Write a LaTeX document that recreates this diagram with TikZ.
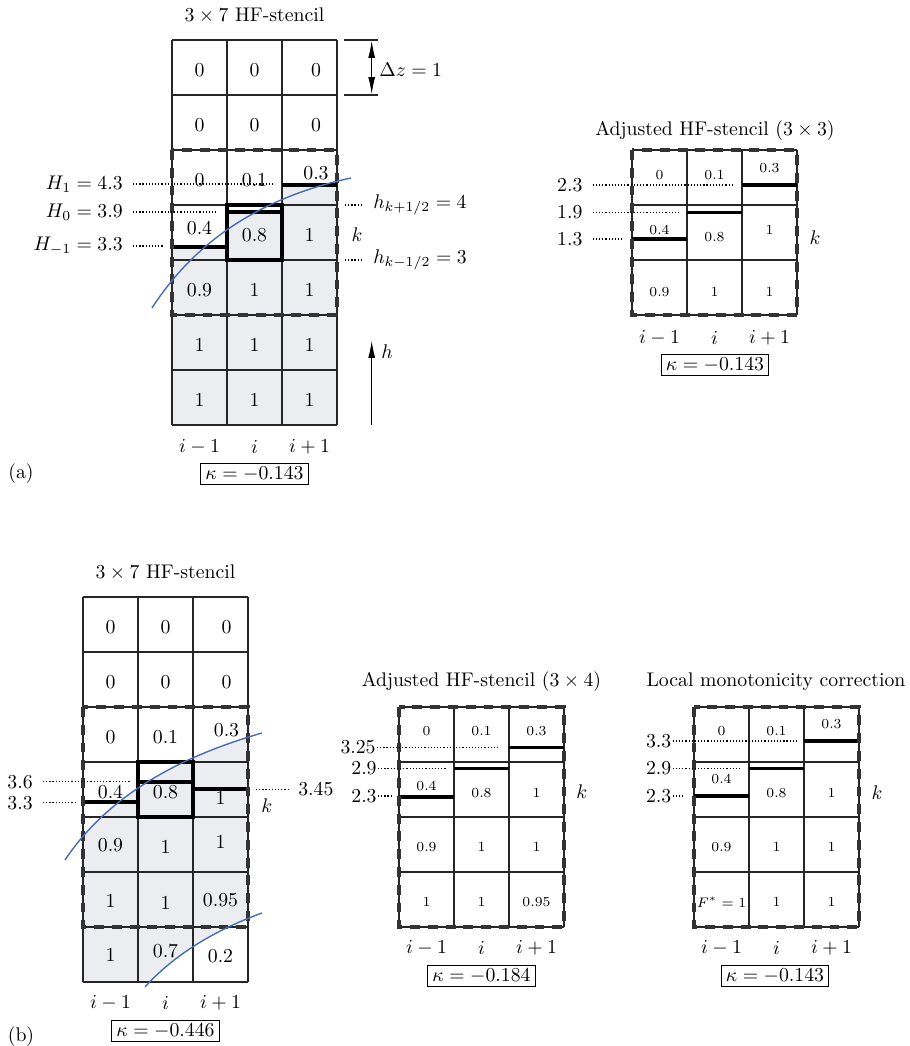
\documentclass[tikz,border=0pt]{standalone}
\usepackage{amsmath}
\usetikzlibrary{arrows.meta}
\definecolor{fluidgray}{RGB}{236,237,240}
\definecolor{ifaceblue}{RGB}{68,108,180}
\tikzset{
  cellgrid/.style   = { line width=0.9pt, draw=black!85 },
  hfline/.style     = { line width=1.7pt },
  hfbox/.style      = { line width=1.8pt, draw=black!80, dash pattern=on 5pt off 4pt },
  leader/.style     = { densely dotted, line width=0.6pt },
  iface/.style      = { draw=ifaceblue, line width=0.7pt },
  dimarrow/.style   = { line width=0.8pt, >={Latex[length=9pt,width=3.5pt]} },
  cellval/.style    = { inner sep=1pt },
  smallval/.style   = { cellval, font=\scriptsize },
  lvllabel/.style   = { anchor=east, inner xsep=5pt },
  rlvllabel/.style  = { anchor=west, inner xsep=5pt },
  tightlabel/.style = { anchor=east, inner xsep=0.5pt },
  kappabox/.style   = { draw, line width=0.5pt, inner xsep=2.5pt, inner ysep=1.5pt },
  paneltitle/.style = { inner sep=1pt },
}

\begin{document}
\begin{tikzpicture}[x=0.01779cm,y=-0.01779cm]
  \useasboundingbox (0,0) rectangle (909,1046);

  %% (a) 3x7 stencil
  \fill[fluidgray] (172,425) -- (172,247) -- (227,247) -- (227,212) -- (282,212)
                   -- (282,185) -- (337,185) -- (337,425) -- cycle;
  \foreach \x in {172,227,282,337} \draw[cellgrid] (\x,40) -- (\x,425);
  \foreach \y in {40,95,...,425}   \draw[cellgrid] (172,\y) -- (337,\y);
  \draw[hfline] (172,247) -- (227,247) (227,212) -- (282,212) (282,185) -- (337,185);
  \draw[hfline] (227,205) rectangle (282,260);
  \draw[hfbox] (172,150) rectangle (337,315);
  \draw[iface] (152,308) .. controls (195.6,240.4) and (261.9,197.1) .. (351,178);

  \foreach \x/\y/\v [count=\n] in {
      199.5/70/0, 254.5/70/0, 316/70/0,
      199.5/125/0, 254.5/125/0, 316/125/0,
      199.5/180/0, 254.5/180/0.1, 316/173/0.3,
      199.5/228/0.4, 254.5/235/0.8, 309.5/235/1,
      199.5/290/0.9, 254.5/290/1, 309.5/290/1,
      199.5/345/1, 254.5/345/1, 309.5/345/1,
      199.5/400/1, 254.5/400/1, 309.5/400/1}
    \node[cellval] (aL-v\n) at (\x,\y) {\v};

  \node[paneltitle] (aL-title) at (254.5,15) {$3\times 7$ HF-stencil};

  \node[lvllabel] (aL-H1) at (133,184) {$H_1 = 4.3$};
  \node[lvllabel] (aL-H0) at (133,212) {$H_0 = 3.9$};
  \node[lvllabel] (aL-Hm) at (133,246) {$H_{-1} = 3.3$};
  \coordinate (aL-H1e) at (273,184);
  \coordinate (aL-H0e) at (218,212);
  \coordinate (aL-Hme) at (164,246);
  \draw[leader] (aL-H1) -- (aL-H1e);
  \draw[leader] (aL-H0) -- (aL-H0e);
  \draw[leader] (aL-Hm) -- (aL-Hme);

  \coordinate (aL-hps) at (345,205);
  \coordinate (aL-hms) at (345,260);
  \node[rlvllabel] (aL-hp) at (363,205) {$h_{k+1/2} = 4$};
  \node[rlvllabel] (aL-hm) at (363,260) {$h_{k-1/2} = 3$};
  \draw[leader] (aL-hps) -- (aL-hp);
  \draw[leader] (aL-hms) -- (aL-hm);
  \node (aL-k) at (357,235) {$k$};

  \draw[cellgrid, line width=0.8pt] (344,40) -- (378,40) (344,95) -- (378,95);
  \coordinate (dz-t) at (371.7,40);
  \coordinate (dz-b) at (371.7,95);
  \draw[dimarrow, <->] (dz-t) -- (dz-b);
  \node[anchor=west, inner xsep=1pt] (dz) at (377,70) {$\Delta z = 1$};

  \coordinate (h-foot) at (371.7,425);
  \coordinate (h-tip)  at (371.7,340);
  \draw[dimarrow, ->] (h-foot) -- (h-tip);
  \node (h-lbl) at (387,352) {$h$};

  \foreach \x/\t [count=\n] in {199.5/i-1, 254.5/i, 309.5/i+1}
    \node (aL-col\n) at (\x,447) {$\t$};
  \node[kappabox] (aL-kappa) at (254.5,474) {$\kappa = -0.143$};
  \node (a-tag) at (21,474) {(a)};

  %% (a) adjusted 3x3 stencil
  \foreach \x in {632,687,742,797} \draw[cellgrid] (\x,150) -- (\x,315);
  \foreach \y in {150,205,260,315} \draw[cellgrid] (632,\y) -- (797,\y);
  \draw[hfline] (632,239) -- (687,239) (687,212.5) -- (742,212.5) (742,185) -- (797,185);
  \draw[hfbox] (632,150) rectangle (797,315);

  \foreach \x/\y/\v [count=\n] in {
      659.5/175/0, 714.5/175/0.1, 769.5/168/0.3,
      659.5/230/0.4, 714.5/237/0.8, 769.5/230/1,
      659.5/292/0.9, 714.5/292/1, 769.5/292/1}
    \node[smallval] (aR-v\n) at (\x,\y) {\v};

  \node[paneltitle] (aR-title) at (715,131) {Adjusted HF-stencil ($3\times 3$)};

  \node[lvllabel] (aR-l1) at (592.7,185) {$2.3$};
  \node[lvllabel] (aR-l2) at (592.7,212.5) {$1.9$};
  \node[lvllabel] (aR-l3) at (592.7,239) {$1.3$};
  \coordinate (aR-l1e) at (733,185);
  \coordinate (aR-l2e) at (679,212.5);
  \coordinate (aR-l3e) at (624,239);
  \draw[leader] (aR-l1) -- (aR-l1e);
  \draw[leader] (aR-l2) -- (aR-l2e);
  \draw[leader] (aR-l3) -- (aR-l3e);
  \node (aR-k) at (815,238) {$k$};

  \foreach \x/\t [count=\n] in {659.5/i-1, 714.5/i, 769.5/i+1}
    \node (aR-col\n) at (\x,338) {$\t$};
  \node[kappabox] (aR-kappa) at (715,365) {$\kappa = -0.143$};

  %% (b) 3x7 stencil
  \begin{scope}
    \clip (83,597) rectangle (248,982);
    \fill[fluidgray] (65,860) .. controls (103.8,801.7) and (169.5,759.4) .. (262,733)
         -- (262,913) .. controls (212.4,931.1) and (173.4,955.7) .. (145,987)
         -- (65,987) -- cycle;
  \end{scope}
  \foreach \x in {83,138,193,248} \draw[cellgrid] (\x,597) -- (\x,982);
  \foreach \y in {597,652,...,982} \draw[cellgrid] (83,\y) -- (248,\y);
  \draw[hfline] (83,802) -- (138,802) (138,782) -- (193,782) (193,789) -- (248,789);
  \draw[hfline] (138,762) rectangle (193,817);
  \draw[hfbox] (83,707) rectangle (248,927);
  \draw[iface] (65,860) .. controls (103.8,801.7) and (169.5,759.4) .. (262,733);
  \draw[iface] (145,987) .. controls (173.4,955.7) and (212.4,931.1) .. (262,913);

  \foreach \x/\y/\v [count=\n] in {
      110.5/627/0, 165.5/627/0, 226.5/627/0,
      110.5/682/0, 165.5/682/0, 226.5/682/0,
      110.5/737/0, 165.5/737/0.1, 226.5/730/0.3,
      110.5/792/0.4, 165.5/792/0.8, 220.5/798/1,
      110.5/845/0.9, 165.5/847/1, 220.5/842/1,
      110.5/901/1, 165.5/903/1, 220.5/900/0.95,
      110.5/955/1, 165.5/951/0.7, 220.5/956/0.2}
    \node[cellval] (bL-v\n) at (\x,\y) {\v};

  \node[paneltitle] (bL-title) at (165.5,572) {$3\times 7$ HF-stencil};

  \node[lvllabel] (bL-l1) at (43,781.7) {$3.6$};
  \node[lvllabel] (bL-l2) at (43,802.7) {$3.3$};
  \coordinate (bL-l1e) at (130,781.7);
  \coordinate (bL-l2e) at (75,802.7);
  \draw[leader] (bL-l1) -- (bL-l1e);
  \draw[leader] (bL-l2) -- (bL-l2e);
  \coordinate (bL-r1s) at (256,789.3);
  \node[rlvllabel] (bL-r1) at (288,789.3) {$3.45$};
  \draw[leader] (bL-r1s) -- (bL-r1);
  \node (bL-k) at (266.7,806) {$k$};

  \foreach \x/\t [count=\n] in {110.5/i-1, 165.5/i, 220.5/i+1}
    \node (bL-col\n) at (\x,1003) {$\t$};
  \node[kappabox] (bL-kappa) at (165.5,1031) {$\kappa = -0.446$};
  \node (b-tag) at (21,1037) {(b)};

  %% (b) adjusted 3x4 stencil
  \foreach \x in {399,454,509,564} \draw[cellgrid] (\x,707) -- (\x,927);
  \foreach \y in {707,762,817,872,927} \draw[cellgrid] (399,\y) -- (564,\y);
  \draw[hfline] (399,797) -- (454,797) (454,768.5) -- (509,768.5) (509,747.5) -- (564,747.5);
  \draw[hfbox] (399,707) rectangle (564,927);

  \foreach \x/\y/\v [count=\n] in {
      426.5/731/0, 481.5/731/0.1, 536.5/731/0.3,
      426.5/786/0.4, 481.5/793/0.8, 536.5/793/1,
      426.5/847/0.9, 481.5/847/1, 536.5/847/1,
      426.5/902/1, 481.5/902/1, 536.5/902/0.95}
    \node[smallval] (bM-v\n) at (\x,\y) {\v};

  \node[paneltitle] (bM-title) at (481.5,682) {Adjusted HF-stencil ($3\times 4$)};

  \node[tightlabel] (bM-l1) at (377,747.5) {$3.25$};
  \node[tightlabel] (bM-l2) at (378,768.5) {$2.9$};
  \node[tightlabel] (bM-l3) at (378,796) {$2.3$};
  \coordinate (bM-l1e) at (500,747.5);
  \coordinate (bM-l2e) at (446,768.5);
  \coordinate (bM-l3e) at (390.7,796);
  \draw[leader] (bM-l1) -- (bM-l1e);
  \draw[leader] (bM-l2) -- (bM-l2e);
  \draw[leader] (bM-l3) -- (bM-l3e);
  \node (bM-k) at (581.7,791.7) {$k$};

  \foreach \x/\t [count=\n] in {426.5/i-1, 481.5/i, 536.5/i+1}
    \node (bM-col\n) at (\x,948) {$\t$};
  \node[kappabox] (bM-kappa) at (481.5,976) {$\kappa = -0.184$};

  %% (b) local monotonicity correction
  \foreach \x in {694,749,804,859} \draw[cellgrid] (\x,707) -- (\x,927);
  \foreach \y in {707,762,817,872,927} \draw[cellgrid] (694,\y) -- (859,\y);
  \draw[hfline] (694,796) -- (749,796) (749,768.5) -- (804,768.5) (804,741) -- (859,741);
  \draw[hfbox] (694,707) rectangle (859,927);

  \foreach \x/\y/\v [count=\n] in {
      721.5/731/0, 776.5/731/0.1, 831.5/724/0.3,
      721.5/779/0.4, 776.5/793/0.8, 831.5/793/1,
      721.5/847/0.9, 776.5/847/1, 831.5/847/1,
      721.5/902/{$F^*=1$}, 776.5/902/1, 831.5/902/1}
    \node[smallval] (bR-v\n) at (\x,\y) {\v};

  \node[paneltitle] (bR-title) at (776,682) {Local monotonicity correction};

  \node[tightlabel] (bR-l1) at (672.7,741) {$3.3$};
  \node[tightlabel] (bR-l2) at (672.7,768.5) {$2.9$};
  \node[tightlabel] (bR-l3) at (672.7,796) {$2.3$};
  \coordinate (bR-l1e) at (796.7,741);
  \coordinate (bR-l2e) at (741.7,768.5);
  \coordinate (bR-l3e) at (685,796);
  \draw[leader] (bR-l1) -- (bR-l1e);
  \draw[leader] (bR-l2) -- (bR-l2e);
  \draw[leader] (bR-l3) -- (bR-l3e);
  \node (bR-k) at (877,792.7) {$k$};

  \foreach \x/\t [count=\n] in {721.5/i-1, 776.5/i, 831.5/i+1}
    \node (bR-col\n) at (\x,948) {$\t$};
  \node[kappabox] (bR-kappa) at (775,976) {$\kappa = -0.143$};
\end{tikzpicture}
\end{document}
